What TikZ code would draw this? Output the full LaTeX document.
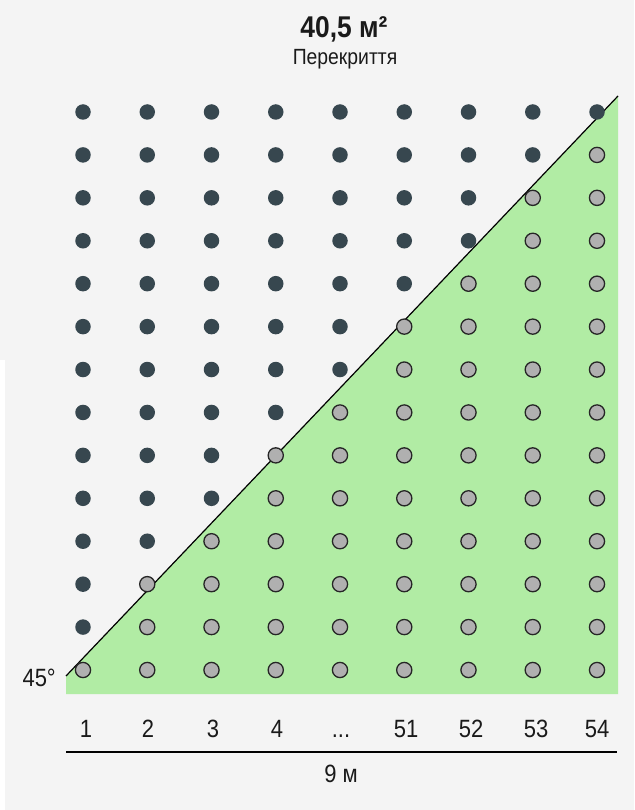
\documentclass[tikz,border=0pt]{standalone}
\usepackage{fontspec}
\setmainfont[FakeStretch=0.88]{Liberation Sans}
\definecolor{bgc}{HTML}{F4F4F4}
\definecolor{greenc}{HTML}{B1ECA4}
\definecolor{darkc}{HTML}{37474F}
\definecolor{grayc}{HTML}{B0B0B0}
\definecolor{edgec}{HTML}{262626}
\definecolor{textc}{HTML}{1A1A1A}
\begin{document}
\begin{tikzpicture}[x=1pt,y=-1pt,
  darkdot/.style={circle,fill=darkc,inner sep=0pt,minimum size=15.5pt},
  graydot/.style={circle,fill=grayc,draw=edgec,line width=1.3pt,inner sep=0pt,minimum size=15.2pt},
  lbl/.style={anchor=base,text=textc,font=\fontsize{25}{27}\selectfont,inner sep=0pt},
  diag/.style={draw=black,line width=1.2pt},
  axis/.style={draw=black,line width=2.2pt}]
\useasboundingbox (0,0) rectangle (634,810);
\fill[bgc] (0,0) rectangle (634,810);
\fill[white] (0,360) rectangle (5,810);
% green region and diagonal
\coordinate (ls) at (66,676);
\coordinate (le) at (618,96);
\coordinate (gbr) at (618,694);
\coordinate (gbl) at (66,694);
\fill[greenc] (ls) -- (le) -- (gbr) -- (gbl) -- cycle;
\draw[diag] (ls) -- (le);
% dots
\foreach \i/\g in {0/1,1/3,2/4,3/6,4/7,5/9,6/10,7/12,8/13} {
  \foreach \j in {0,...,13} {
    \pgfmathsetmacro\xx{83+64.25*\i}
    \pgfmathsetmacro\yy{112+42.923*\j}
    \pgfmathtruncatemacro\isgray{\j>=14-\g ? 1 : 0}
    \ifnum\isgray=1
      \node[graydot] (d\i-\j) at (\xx,\yy) {};
    \else
      \node[darkdot] (d\i-\j) at (\xx,\yy) {};
    \fi
  }
}
% title
\node[anchor=base,text=textc,inner sep=0pt,font=\bfseries\fontsize{30}{32}\selectfont] (title) at (344,38) {40,5 м²};
\node[anchor=base,text=textc,inner sep=0pt,font=\fontsize{22}{24}\selectfont] (sub) at (345,65) {Перекриття};
% angle
\node[lbl,anchor=base east] (ang) at (56,686) {45°};
% column labels
\node[lbl] (c1) at (86,737) {1};
\node[lbl] (c2) at (148,737) {2};
\node[lbl] (c3) at (213,737) {3};
\node[lbl] (c4) at (277,737) {4};
\node[lbl] (c5) at (341,737) {...};
\node[lbl] (c51) at (406,737) {51};
\node[lbl] (c52) at (471,737) {52};
\node[lbl] (c53) at (536,737) {53};
\node[lbl] (c54) at (597,737) {54};
% axis
\coordinate (a1) at (66,752);
\coordinate (a2) at (617,752);
\draw[axis] (a1) -- (a2);
\node[lbl] (len) at (341,782) {9 м};
\end{tikzpicture}
\end{document}
